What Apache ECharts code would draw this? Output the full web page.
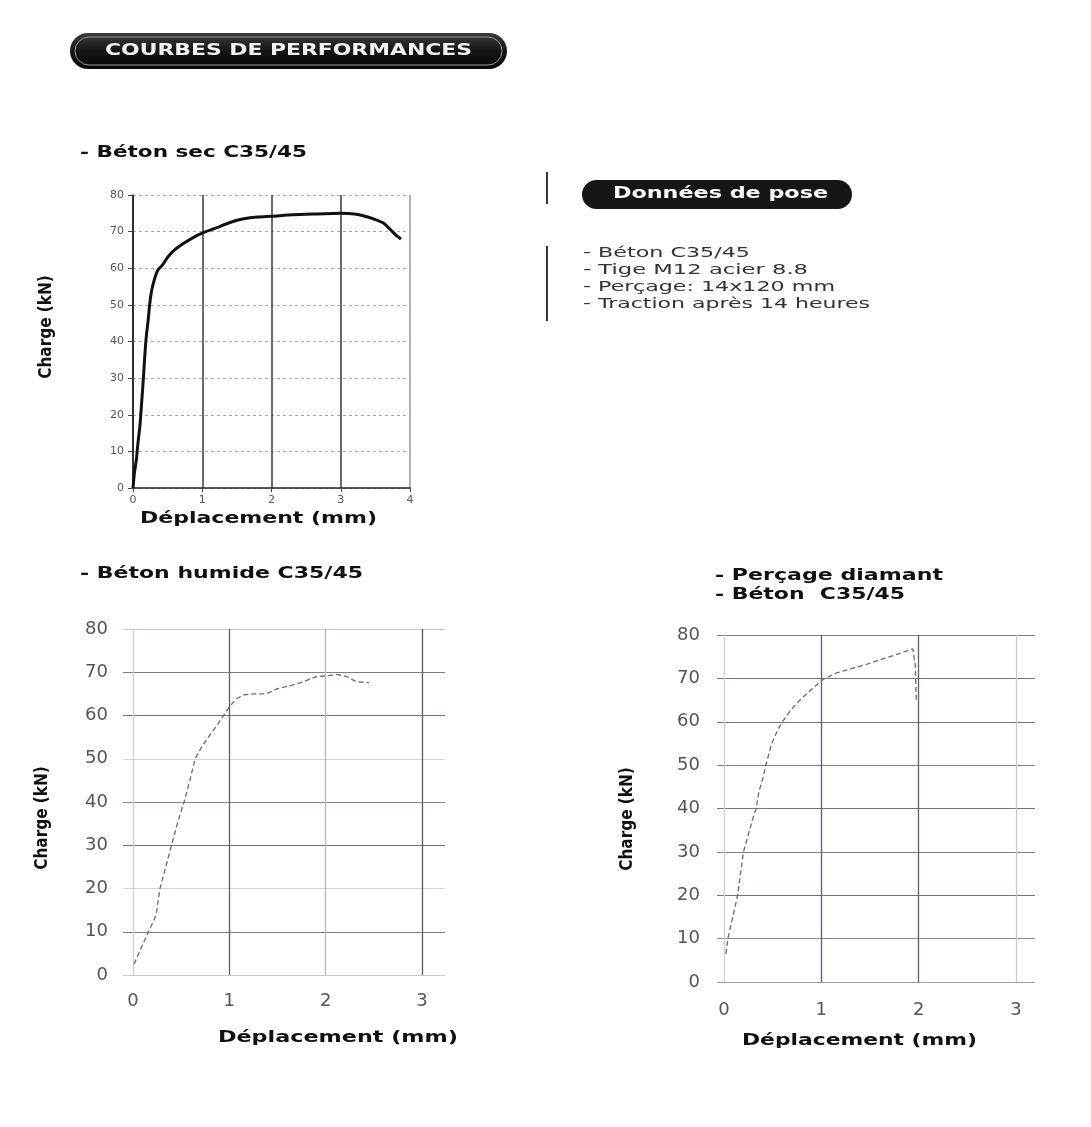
<!DOCTYPE html>
<html><head><meta charset="utf-8">
<script src="https://cdn.jsdelivr.net/npm/echarts@6/dist/echarts.min.js"></script>
<style>html,body{margin:0;padding:0;background:#fff}#c{width:1091px;height:1127px}</style>
</head><body><div id="c"></div>
<script>
// ---- data ----
const headerTitle = 'COURBES DE PERFORMANCES';
const dryTitle = '- Béton sec C35/45';
const wetTitle = '- Béton humide C35/45';
const diamondTitle1 = '- Perçage diamant';
const diamondTitle2 = '- Béton  C35/45';
const poseTitle = 'Données de pose';
const poseLines = ['- Béton C35/45', '- Tige M12 acier 8.8', '- Perçage: 14x120 mm', '- Traction après 14 heures'];
const yName = 'Charge (kN)';
const xName = 'Déplacement (mm)';
const yMax = 80, yStep = 10;
const dryXMax = 4, wetXMax = 3, diamondXMax = 3;

const dryCurve = [[0,0],[0.02,4],[0.05,8],[0.07,12],[0.1,17],[0.12,22],[0.15,30],[0.17,36],[0.19,41],[0.22,46],[0.24,50],[0.27,54],[0.31,57],[0.36,59.5],[0.43,61],[0.5,63],[0.6,65],[0.75,67],[0.9,68.7],[1.0,69.6],[1.2,71],[1.4,72.5],[1.6,73.5],[1.8,74],[2.0,74.2],[2.3,74.6],[2.6,74.8],[3.0,75],[3.2,74.8],[3.35,74.2],[3.5,73.3],[3.62,72.3],[3.72,70.5],[3.8,69],[3.87,68]];
const wetCurve = [[0.01,2.5],[0.08,6],[0.16,10],[0.22,12.8],[0.24,14],[0.28,20],[0.34,25],[0.4,30],[0.46,35],[0.53,40],[0.59,45],[0.645,50],[0.72,53],[0.8,55.5],[0.88,58],[0.94,60],[1.0,62],[1.07,63.8],[1.15,64.8],[1.25,65],[1.38,65],[1.5,66.2],[1.65,67],[1.78,67.9],[1.9,69],[2.02,69.2],[2.12,69.5],[2.22,69],[2.32,67.8],[2.45,67.6]];
const diamondCurve = [[0.02,6.5],[0.04,10],[0.08,14],[0.14,20],[0.17,25],[0.2,30],[0.25,34],[0.3,38],[0.33,40],[0.36,44],[0.4,47],[0.43,50],[0.49,55],[0.55,58],[0.6,60],[0.68,62.5],[0.78,65],[0.9,67.5],[1.02,69.8],[1.15,71.2],[1.3,72.2],[1.46,73.2],[1.63,74.5],[1.8,75.7],[1.94,76.8],[1.96,76.4],[1.965,73],[1.97,69.5],[1.975,65]];

// ---- helpers ----
const mctx = document.createElement('canvas').getContext('2d');
function fitText(str, x, y, w, size, weight, family, color, extra) {
  mctx.font = weight + ' ' + size + 'px ' + family;
  const m = mctx.measureText(str).width;
  return Object.assign({
    type: 'text', x: x, y: y, scaleX: w / m, z: 100,
    style: { text: str, x: 0, y: 0, fill: color, fontSize: size, fontWeight: weight, fontFamily: family,
      align: 'left', verticalAlign: 'middle', textAlign: 'left', textVerticalAlign: 'middle' }
  }, extra || {});
}
function vText(str, cx, cy) {
  return { type: 'text', x: cx, y: cy, rotation: Math.PI / 2, z: 100,
    style: { text: str, x: 0, y: 0, fill: '#111', fontSize: 17, fontWeight: 'bold',
      fontFamily: "'Liberation Sans Narrow', 'DejaVu Sans Condensed', sans-serif",
      align: 'center', verticalAlign: 'middle', textAlign: 'center', textVerticalAlign: 'middle' } };
}
const HF = "'DejaVu Sans', sans-serif";

const bigLabel = { fontSize: 18, color: '#555', fontFamily: "'DejaVu Sans', sans-serif" };

const option = {
  backgroundColor: '#ffffff',
  animation: false,
  grid: [
    { left: 133, top: 195, width: 277, height: 293 },
    { left: 123, top: 629, width: 322, height: 346 },
    { left: 133, top: 629, width: 289, height: 346 },
    { left: 717, top: 635, width: 318, height: 347 },
    { left: 724, top: 635, width: 292, height: 347 }
  ],
  xAxis: [
    { gridIndex: 0, type: 'value', min: 0, max: dryXMax, interval: 1,
      axisLine: { lineStyle: { color: '#222', width: 1.5 } },
      axisTick: { show: true, length: 4, lineStyle: { color: '#444' } },
      axisLabel: { fontSize: 11, color: '#555', margin: 7, fontFamily: HF },
      splitLine: { show: true, lineStyle: { color: ['#222', '#3a3a3a', '#3a3a3a', '#3a3a3a', '#999'], width: 1.5 } } },
    { gridIndex: 1, type: 'value', min: 0, max: 1, show: false },
    { gridIndex: 2, type: 'value', min: 0, max: wetXMax, interval: 1,
      axisLine: { show: false }, axisTick: { show: false },
      axisLabel: Object.assign({ margin: 17 }, bigLabel),
      splitLine: { show: true, lineStyle: { color: ['#cfcfcf', '#5a5f78', '#b8b8c4', '#5a5a66'], width: 1.3 } } },
    { gridIndex: 3, type: 'value', min: 0, max: 1, show: false },
    { gridIndex: 4, type: 'value', min: 0, max: diamondXMax, interval: 1,
      axisLine: { show: false }, axisTick: { show: false },
      axisLabel: Object.assign({ margin: 19 }, bigLabel),
      splitLine: { show: true, lineStyle: { color: ['#d0d0d8', '#5a5f7a', '#5a5f7a', '#c8c8d0'], width: 1.3 } } }
  ],
  yAxis: [
    { gridIndex: 0, type: 'value', min: 0, max: yMax, interval: yStep,
      axisLine: { show: true, lineStyle: { color: '#222', width: 1.5 } },
      axisTick: { show: true, length: 5, lineStyle: { color: '#444' } },
      axisLabel: { fontSize: 11, color: '#555', margin: 9, fontFamily: HF },
      splitLine: { show: true, lineStyle: { color: '#a8a8a8', type: [3, 3], width: 1 } } },
    { gridIndex: 1, type: 'value', min: 0, max: yMax, interval: yStep,
      axisLine: { show: false }, axisTick: { show: false }, axisLabel: { show: false },
      splitLine: { show: true, lineStyle: { width: 1.2,
        color: ['#c8c8c8', '#8a7a78', '#d2d2da', '#6a6f8a', '#9a8078', '#d4d4de', '#6a7090', '#8a7a70', '#d8c2b2'] } } },
    { gridIndex: 2, type: 'value', min: 0, max: yMax, interval: yStep,
      axisLine: { show: false }, axisTick: { show: false },
      axisLabel: Object.assign({ margin: 25 }, bigLabel), splitLine: { show: false } },
    { gridIndex: 3, type: 'value', min: 0, max: yMax, interval: yStep,
      axisLine: { show: false }, axisTick: { show: false }, axisLabel: { show: false },
      splitLine: { show: true, lineStyle: { width: 1.2,
        color: ['#9a9aa8', '#8a8a9a', '#6e7290', '#7a7e98', '#6e7290', '#8a7f80', '#6e7290', '#6e7290', '#7a7e98'] } } },
    { gridIndex: 4, type: 'value', min: 0, max: yMax, interval: yStep,
      axisLine: { show: false }, axisTick: { show: false },
      axisLabel: Object.assign({ margin: 24 }, bigLabel), splitLine: { show: false } }
  ],
  series: [
    { type: 'line', name: dryTitle, xAxisIndex: 0, yAxisIndex: 0, data: dryCurve, showSymbol: false, smooth: 0.2,
      lineStyle: { color: '#111', width: 3 }, z: 10 },
    { type: 'line', name: wetTitle, xAxisIndex: 2, yAxisIndex: 2, data: wetCurve, showSymbol: false,
      lineStyle: { color: '#6a6a6a', width: 1.3, type: [5, 3] }, z: 10 },
    { type: 'line', name: diamondTitle1, xAxisIndex: 4, yAxisIndex: 4, data: diamondCurve, showSymbol: false,
      lineStyle: { color: '#6a6a6a', width: 1.3, type: [5, 3] }, z: 10 }
  ],
  graphic: [
    { type: 'rect', shape: { x: 70, y: 33, width: 437, height: 36, r: 18 }, z: 90,
      style: { fill: new echarts.graphic.LinearGradient(0, 0, 0, 1, [
        { offset: 0, color: '#3c3c3c' }, { offset: 0.5, color: '#151515' }, { offset: 1, color: '#050505' }]) } },
    { type: 'rect', shape: { x: 75, y: 37, width: 427, height: 28, r: 14 }, z: 91,
      style: { fill: 'none', stroke: '#9a9a9a', lineWidth: 1 } },
    fitText(headerTitle, 105, 51, 367, 16, 'bold', HF, '#f2f2f2'),

    fitText(dryTitle, 80, 153, 227, 15, 'bold', HF, '#111'),
    fitText(wetTitle, 80, 574, 283, 15, 'bold', HF, '#111'),
    fitText(diamondTitle1, 715, 576, 228, 15, 'bold', HF, '#111'),
    fitText(diamondTitle2, 715, 595, 190, 15, 'bold', HF, '#111'),

    { type: 'rect', shape: { x: 582, y: 180, width: 270, height: 29, r: 14.5 }, z: 90, style: { fill: '#161616' } },
    fitText(poseTitle, 613, 194, 215, 15, 'bold', HF, '#ffffff'),
    { type: 'line', shape: { x1: 547, y1: 172, x2: 547, y2: 204 }, z: 90, style: { stroke: '#333', lineWidth: 2 } },
    { type: 'line', shape: { x1: 547, y1: 246, x2: 547, y2: 321 }, z: 90, style: { stroke: '#333', lineWidth: 2 } },
    fitText(poseLines[0], 583, 253, 167, 14, 'normal', HF, '#333'),
    fitText(poseLines[1], 583, 270, 225, 14, 'normal', HF, '#333'),
    fitText(poseLines[2], 583, 287, 252, 14, 'normal', HF, '#333'),
    fitText(poseLines[3], 583, 304, 287, 14, 'normal', HF, '#333'),

    vText(yName, 47, 327),
    vText(yName, 43, 818),
    vText(yName, 628, 819),
    fitText(xName, 140, 519, 237, 16, 'bold', HF, '#111'),
    fitText(xName, 218, 1038, 240, 15, 'bold', HF, '#111'),
    fitText(xName, 742, 1041, 235, 15, 'bold', HF, '#111')
  ]
};
const chart = echarts.init(document.getElementById('c'));
chart.setOption(option);
</script>
</body></html>
